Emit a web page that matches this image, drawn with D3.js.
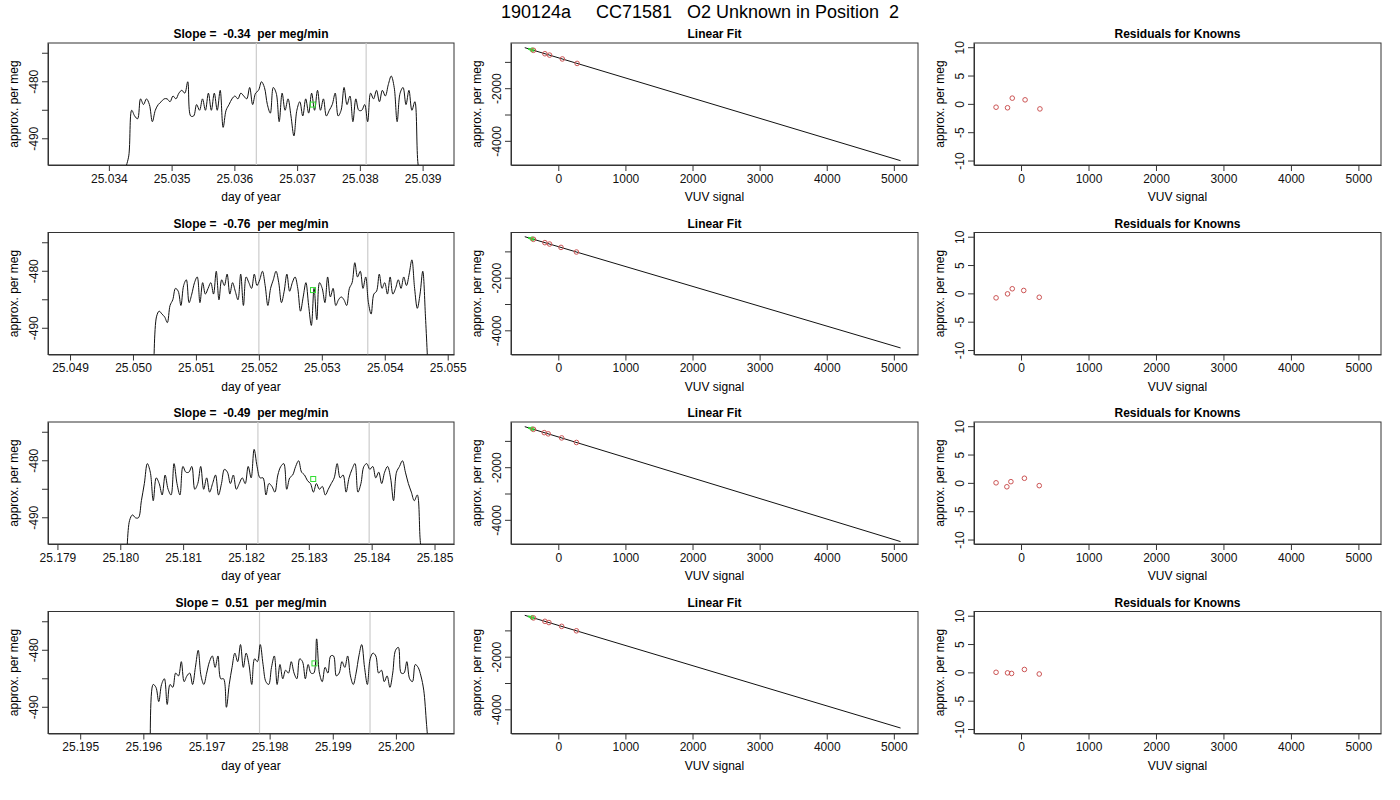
<!DOCTYPE html>
<html><head><meta charset="utf-8">
<script src="https://cdn.jsdelivr.net/npm/d3@7"></script>
<style>
body{margin:0;background:#fff}
svg{font-family:"Liberation Sans",Arial,sans-serif}
</style></head><body>
<svg id="c" width="1400" height="800"></svg>
<script>
// time series per run: start/end day, values evenly spaced
const runStart = [25.03427, 25.05033, 25.18010, 25.19611];
const runEnd   = [25.03897, 25.05469, 25.18482, 25.20053];
const xDomains = [[25.03303, 25.0395], [25.04865, 25.0551], [25.17885, 25.18531], [25.19449, 25.20092]];
const xTicks = [
  [25.034, 25.035, 25.036, 25.037, 25.038, 25.039],
  [25.049, 25.050, 25.051, 25.052, 25.053, 25.054, 25.055],
  [25.179, 25.180, 25.181, 25.182, 25.183, 25.184, 25.185],
  [25.195, 25.196, 25.197, 25.198, 25.199, 25.200]
];
const greyLines = [[25.03635, 25.0381], [25.052, 25.05373], [25.18219, 25.18396], [25.19784, 25.19959]];
const unknownPt = [[25.03725, -484], [25.05286, -483.3], [25.18307, -483.2], [25.19871, -482.3]];
const slopes = ["-0.34", "-0.76", "-0.49", "0.51"];

const series1 = [-495,-493,-485,-486,-486.5,-483,-484,-483,-484,-487,-485,-484,-483.5,-483,-483,-483.5,-482.5,-483,-482,-481.5,-482,-480,-486,-486,-484,-485,-483,-485,-482,-485,-482,-485,-481.5,-488,-485,-484,-483,-482.5,-483,-482,-482.5,-483,-481,-484,-482,-481.5,-480,-481,-484,-485.5,-481,-482,-487,-482,-485,-483,-486,-489.5,-485,-483.5,-486,-483,-485.5,-482,-485,-481.5,-485,-483,-486,-485,-484,-482,-486,-485,-481,-484,-482.5,-487,-483,-485,-485,-484,-487,-482,-483,-481.5,-483.5,-481.5,-482.5,-480.5,-479,-481,-487,-482,-481,-484,-481.5,-485,-483.5,-494,-498];
const series2 = [-498,-488,-487,-487.5,-488,-489,-486,-485,-483,-483.5,-486,-482.5,-481.5,-485.5,-484,-482,-481,-485.5,-482,-484,-483,-482,-484,-480,-485,-481.5,-482.5,-480.5,-484,-482,-483.5,-485,-480.5,-486,-481,-482,-483,-480.5,-482.5,-481.5,-480,-482.5,-486,-483,-481.5,-480,-482,-485.5,-483.5,-480.5,-483.5,-482,-481,-483,-487,-484.5,-482,-486,-489.5,-483,-488.5,-482,-483,-485.5,-481,-484.5,-483,-486,-485,-484.5,-485,-486,-483,-482,-478.5,-481,-480,-483,-481,-485.5,-487.5,-484,-483.5,-480.5,-483,-482,-484,-481,-484,-483,-481.5,-483,-481,-482.5,-480.5,-478,-483,-486.5,-484,-480,-488,-498];
const series3 = [-498,-490.5,-489.5,-490,-490,-487,-484,-480.5,-482,-487,-483,-484,-486,-482.5,-485,-486,-480.5,-484,-486,-481,-482,-482,-481,-485,-484,-481,-485,-483,-485.5,-484,-482.5,-486,-484,-481.5,-482,-484,-482.5,-485,-484,-483,-484,-481,-483,-478,-481,-483,-483,-486,-484,-484.5,-485.5,-482.5,-481,-480.5,-485,-483,-482.5,-481,-480,-482,-482.5,-483.5,-484,-485.5,-484,-485,-484.5,-486,-485,-484,-483,-480.5,-483,-482.5,-485.5,-483,-481.5,-480.5,-485.5,-484,-481,-480.5,-481.5,-481,-483,-482,-484,-482,-481,-483,-487,-482,-481,-480,-482,-484,-485.5,-487,-486,-494,-499];
const series4 = [-499,-486,-486.5,-489,-486,-485,-489.5,-486,-486.5,-484,-484.5,-482,-485.5,-484.5,-484,-486,-483,-480,-484.5,-486,-484,-482,-481,-483,-481,-485,-485,-490,-486,-483,-480.5,-482,-479,-483,-480.5,-482.5,-486,-481.5,-482,-479,-482.5,-485.5,-486,-483,-481,-486,-482.5,-485,-483.5,-484,-482,-484,-485,-481.5,-482,-485,-482.5,-484,-484,-478,-484,-485.5,-483,-484,-481,-481,-484.5,-484,-482,-483,-481,-484.5,-486,-484,-481,-479,-483,-486,-481.5,-480.5,-481,-484,-483.5,-485.5,-484.5,-486.5,-484,-480,-479.5,-484,-484,-482,-485,-485.5,-482.5,-483,-484.5,-487,-493,-499];
const seriesAll = [series1, series2, series3, series4];

// fit panels
const knownX = [[-370,-200,-130,60,280],[-370,-200,-130,40,270],[-370,-210,-150,50,270],[-370,-200,-140,50,270]];
const resid = [[-0.5,-0.6,1.1,0.8,-0.8],[-0.7,0,0.9,0.6,-0.6],[0.1,-0.6,0.3,0.9,-0.4],[0.1,0,-0.1,0.6,-0.2]];
const fitSlope = [-0.767, -0.755, -0.78, -0.765];
const fitIntercept = [-824, -800, -830, -790];
const unknownX = -390;

const cols = [[48,454],[511,918],[974,1381]];
const rowTop = [43, 232.5, 422, 611.5];
const ph = 122;
const svg = d3.select("#c");

svg.append("text").attr("x",700).attr("y",18).attr("text-anchor","middle")
  .attr("font-size",18).attr("xml:space","preserve")
  .text("190124a     CC71581   O2 Unknown in Position  2");

function panel(col, top, xs, ys, title, xlab, xt, yt, ylabs) {
  const g = svg.append("g");
  const [l, r] = cols[col];
  g.append("text").attr("x",(l+r)/2).attr("y",top-5).attr("text-anchor","middle")
    .attr("font-size",12).attr("font-weight","bold").attr("xml:space","preserve").text(title);
  g.append("rect").attr("x",l).attr("y",top).attr("width",r-l).attr("height",ph)
    .attr("fill","none").attr("stroke","#333");
  const xa = g.append("g").attr("transform",`translate(0,${top+ph})`)
    .call(d3.axisBottom(xs).tickValues(xt).tickSize(6).tickSizeOuter(0)
      .tickFormat(d => col===0 ? d3.format(".3f")(d) : d));
  const ya = g.append("g").attr("transform",`translate(${l},0)`)
    .call(d3.axisLeft(ys).tickValues(yt).tickSize(6).tickSizeOuter(0)
      .tickFormat(d => ylabs.includes(d) ? d : ""));
  [xa, ya].forEach(a => {
    a.selectAll("text").attr("font-size",12).attr("fill","#111")
      .attr("font-family","Liberation Sans, Arial, sans-serif");
    a.selectAll("line,path").attr("stroke","#333");
  });
  ya.selectAll(".tick").attr("transform","translate(0,0)");
  ya.selectAll(".tick line").attr("y1",d=>ys(d)).attr("y2",d=>ys(d));
  ya.selectAll("text").attr("text-anchor","middle").attr("x",0).attr("y",0).attr("dy",0)
    .attr("transform", d => `translate(${-10},${ys(d)}) rotate(-90)`);
  g.append("text").attr("x",(l+r)/2).attr("y",top+ph+36).attr("text-anchor","middle")
    .attr("font-size",12).text(xlab);
  g.append("text").attr("transform",`translate(${l-30},${top+ph/2}) rotate(-90)`)
    .attr("text-anchor","middle").attr("font-size",12).text("approx. per meg");
  const clipId = "cl"+col+"_"+Math.round(top);
  g.append("clipPath").attr("id",clipId).append("rect")
    .attr("x",l).attr("y",top).attr("width",r-l).attr("height",ph);
  return g.append("g").attr("clip-path",`url(#${clipId})`);
}

for (let i = 0; i < 4; i++) {
  const top = rowTop[i];
  // column 1: time series
  const xs = d3.scaleLinear().domain(xDomains[i]).range(cols[0]);
  const ys = d3.scaleLinear().domain([-494.6, -473.2]).range([top+ph, top]);
  const p = panel(0, top, xs, ys, `Slope =  ${slopes[i]}  per meg/min`, "day of year",
    xTicks[i], [-490,-485,-480,-475], [-490,-480]);
  greyLines[i].forEach(t => p.append("line").attr("x1",xs(t)).attr("x2",xs(t))
    .attr("y1",top).attr("y2",top+ph).attr("stroke","#ccc").attr("stroke-width",1.2));
  const s = seriesAll[i];
  const step = (runEnd[i]-runStart[i])/(s.length-1);
  p.append("path").datum(s).attr("fill","none").attr("stroke","#111").attr("stroke-width",1)
    .attr("d", d3.line().curve(d3.curveCatmullRom).x((d,k)=>xs(runStart[i]+k*step)).y(d=>ys(d)));
  p.append("rect").attr("x",xs(unknownPt[i][0])-2.5).attr("y",ys(unknownPt[i][1])-2.5)
    .attr("width",5).attr("height",5).attr("fill","none").attr("stroke","#3d3").attr("stroke-width",1);

  // column 2: linear fit
  const xf = d3.scaleLinear().domain([-705, 5360]).range(cols[1]);
  const yf = d3.scaleLinear().domain([-4900, -263]).range([top+ph, top]);
  const q = panel(1, top, xf, yf, "Linear Fit", "VUV signal",
    [0,1000,2000,3000,4000,5000], [-1000,-2000,-3000,-4000], [-2000,-4000]);
  const f = x => fitSlope[i]*x + fitIntercept[i];
  q.append("line").attr("x1",xf(-500)).attr("y1",yf(f(-500))).attr("x2",xf(5100)).attr("y2",yf(f(5100)))
    .attr("stroke","#111");
  q.append("line").attr("x1",xf(unknownX-60)).attr("x2",xf(unknownX+20))
    .attr("y1",yf(f(unknownX-60))).attr("y2",yf(f(unknownX+20))).attr("stroke","#3d3").attr("stroke-width",2);
  q.append("circle").attr("cx",xf(unknownX)).attr("cy",yf(f(unknownX))).attr("r",2)
    .attr("fill","none").attr("stroke","#3d3");
  q.selectAll(".k").data(knownX[i]).join("circle").attr("cx",d=>xf(d))
    .attr("cy",(d,k)=>yf(f(d)+resid[i][k])).attr("r",2.3).attr("fill","none").attr("stroke","#c55");

  // column 3: residuals
  const xr = d3.scaleLinear().domain([-697, 5335]).range(cols[2]);
  const yr = d3.scaleLinear().domain([-10.7, 10.83]).range([top+ph, top]);
  const w = panel(2, top, xr, yr, "Residuals for Knowns", "VUV signal",
    [0,1000,2000,3000,4000,5000], [-10,-5,0,5,10], [-10,-5,0,5,10]);
  w.selectAll(".r").data(knownX[i]).join("circle").attr("cx",d=>xr(d))
    .attr("cy",(d,k)=>yr(resid[i][k])).attr("r",2.3).attr("fill","none").attr("stroke","#c55");
}
</script></body></html>
